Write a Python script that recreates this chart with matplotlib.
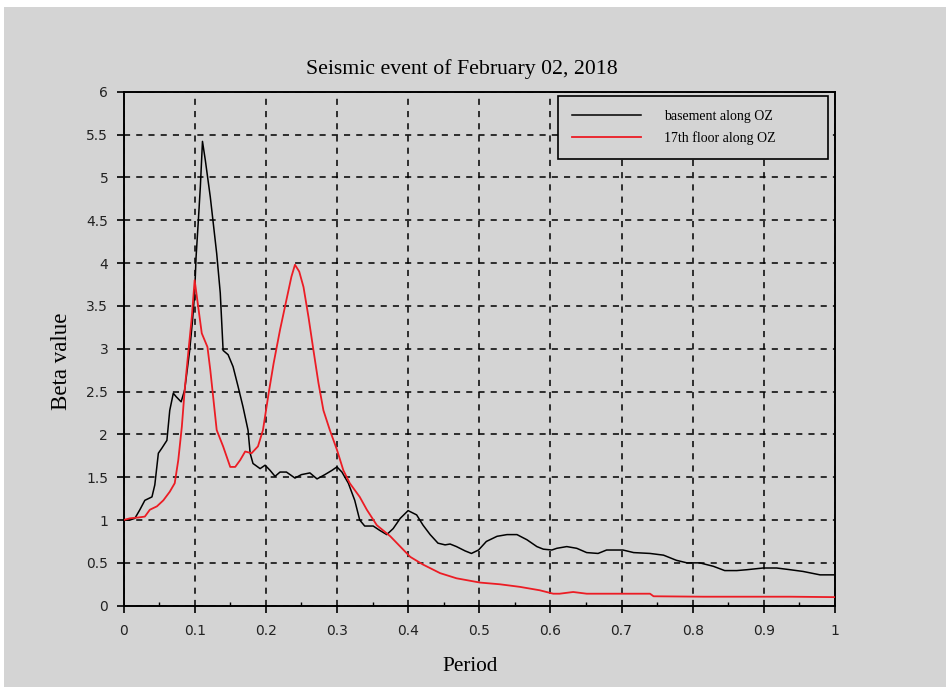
import matplotlib
matplotlib.use("Agg")
import matplotlib.pyplot as plt
from matplotlib.patches import Rectangle
from matplotlib.ticker import MultipleLocator

title = "Seismic event of February 02, 2018"
xlabel = "Period"
ylabel = "Beta value"
label_basement = "basement along OZ"
label_floor = "17th floor along OZ"

basement_x = [0.0, 0.009, 0.016, 0.023, 0.030, 0.040, 0.044, 0.049, 0.054, 0.061, 0.065,
              0.070, 0.074, 0.081, 0.086, 0.093, 0.097, 0.100, 0.102, 0.105, 0.108, 0.111,
              0.115, 0.122, 0.131, 0.136, 0.140, 0.147, 0.154, 0.161, 0.168, 0.175, 0.178,
              0.182, 0.192, 0.199, 0.206, 0.213, 0.220, 0.229, 0.241, 0.250, 0.262, 0.272,
              0.283, 0.293, 0.300, 0.307, 0.316, 0.325, 0.332, 0.339, 0.351, 0.360, 0.370,
              0.379, 0.389, 0.400, 0.412, 0.421, 0.431, 0.442, 0.452, 0.459, 0.468, 0.480,
              0.489, 0.499, 0.510, 0.525, 0.539, 0.553, 0.567, 0.581, 0.590, 0.602, 0.609,
              0.623, 0.637, 0.651, 0.667, 0.679, 0.702, 0.717, 0.740, 0.759, 0.777, 0.792,
              0.810, 0.829, 0.845, 0.862, 0.876, 0.899, 0.918, 0.937, 0.955, 0.979, 1.0]
basement_y = [1.0, 1.0, 1.02, 1.12, 1.23, 1.27, 1.41, 1.78, 1.84, 1.93, 2.28,
              2.48, 2.44, 2.38, 2.52, 2.98, 3.33, 3.65, 4.07, 4.47, 4.89, 5.42,
              5.20, 4.77, 4.11, 3.65, 2.98, 2.93, 2.79, 2.56, 2.32, 2.05, 1.78,
              1.66, 1.60, 1.64, 1.58, 1.51, 1.56, 1.56, 1.49, 1.53, 1.55, 1.48,
              1.53, 1.58, 1.62, 1.56, 1.43, 1.23, 1.00, 0.93, 0.93, 0.88, 0.83,
              0.90, 1.02, 1.11, 1.06, 0.94, 0.83, 0.73, 0.71, 0.72, 0.69, 0.64,
              0.61, 0.65, 0.75, 0.81, 0.83, 0.83, 0.77, 0.69, 0.66, 0.65, 0.67,
              0.69, 0.67, 0.62, 0.61, 0.65, 0.65, 0.62, 0.61, 0.59, 0.53, 0.50,
              0.50, 0.46, 0.41, 0.41, 0.42, 0.44, 0.44, 0.42, 0.40, 0.36, 0.36]

floor_x = [0.0, 0.009, 0.021, 0.030, 0.037, 0.047, 0.056, 0.065, 0.072, 0.077, 0.082,
           0.086, 0.091, 0.096, 0.100, 0.105, 0.110, 0.118, 0.122, 0.131, 0.140, 0.150,
           0.157, 0.164, 0.171, 0.180, 0.189, 0.196, 0.204, 0.211, 0.220, 0.229, 0.236,
           0.241, 0.247, 0.253, 0.260, 0.267, 0.274, 0.281, 0.290, 0.300, 0.309, 0.318,
           0.332, 0.342, 0.356, 0.375, 0.389, 0.403, 0.421, 0.445, 0.468, 0.501, 0.529,
           0.557, 0.585, 0.604, 0.613, 0.632, 0.651, 0.670, 0.693, 0.740, 0.745, 0.815,
           0.876, 0.937, 1.0]
floor_y = [1.0, 1.02, 1.03, 1.04, 1.12, 1.16, 1.23, 1.33, 1.43, 1.70, 2.09,
           2.52, 2.95, 3.37, 3.80, 3.49, 3.18, 3.02, 2.75, 2.05, 1.86, 1.62,
           1.62, 1.70, 1.80, 1.78, 1.86, 2.05, 2.48, 2.83, 3.22, 3.57, 3.84,
           3.98, 3.90, 3.72, 3.37, 2.98, 2.60, 2.28, 2.05, 1.82, 1.58, 1.43,
           1.27, 1.12, 0.94, 0.81, 0.69, 0.57, 0.48, 0.38, 0.32, 0.27, 0.25,
           0.22, 0.18, 0.14, 0.14, 0.16, 0.14, 0.14, 0.14, 0.14, 0.11, 0.105,
           0.105, 0.105, 0.10]

GRAY = "#d4d4d4"
W, H = 950, 687
fig = plt.figure(figsize=(W / 100, H / 100), dpi=100, facecolor="white")
fig.patches.append(Rectangle((4 / W, 0), 942 / W, 1 - 7 / H, transform=fig.transFigure,
                             facecolor=GRAY, edgecolor="none", zorder=-10))

left, right, top, bottom = 123.5, 835, 91.7, 605.7
aw, ah = right - left, bottom - top
ax = fig.add_axes([left / W, 1 - bottom / H, aw / W, ah / H])
ax.set_facecolor(GRAY)

ax.plot(basement_x, basement_y, color="black", lw=1.1, label=label_basement, zorder=3)
ax.plot(floor_x, floor_y, color="#ec1c24", lw=1.3, label=label_floor, zorder=3)

ax.set_xlim(0, 1)
ax.set_ylim(0, 6)
ax.xaxis.set_major_locator(MultipleLocator(0.1))
ax.xaxis.set_minor_locator(MultipleLocator(0.05))
ax.yaxis.set_major_locator(MultipleLocator(0.5))

def fmt(v, pos):
    return ("%.1f" % v).rstrip("0").rstrip(".")
ax.xaxis.set_major_formatter(plt.FuncFormatter(fmt))
ax.yaxis.set_major_formatter(plt.FuncFormatter(fmt))

ax.grid(True, which="major", color="black", linestyle=(0, (4, 4)), linewidth=1.1)
for s in ax.spines.values():
    s.set_color("black")
    s.set_linewidth(1.4)

ax.tick_params(axis="both", which="major", direction="out", length=5, width=1.2,
               labelsize=10, colors="black")
ax.tick_params(axis="y", which="major", pad=6)
ax.tick_params(axis="x", which="major", pad=8)
ax.tick_params(axis="x", which="minor", direction="in", length=3, width=1.0,
               bottom=True, top=False)
for lab in ax.get_xticklabels() + ax.get_yticklabels():
    lab.set_family("DejaVu Sans")
    lab.set_color("#222222")

ax.set_title(title, family="Liberation Serif", fontsize=15.7, pad=13,
             x=(462 - left) / aw)
ax.set_xlabel(xlabel, family="Liberation Serif", fontsize=15.3, labelpad=14,
              x=(470 - left) / aw)
ax.set_ylabel(ylabel, family="Liberation Serif", fontsize=16.5, labelpad=10,
              y=(bottom - 361) / ah)

x0 = (558 - left) / aw
wdt = (828 - 558) / aw
ytop = (bottom - 96) / ah
hgt = 0.12
leg = ax.legend(loc="upper right", bbox_to_anchor=(x0, ytop - hgt, wdt, hgt), mode="expand",
                borderaxespad=0, frameon=True, fancybox=False, facecolor=GRAY,
                edgecolor="black", framealpha=1, handlelength=5, handletextpad=1.6,
                borderpad=1.0, labelspacing=0.6,
                prop={"family": "Liberation Serif", "size": 10})
leg.get_frame().set_linewidth(1.2)

fig.savefig("out.png", dpi=100, facecolor="white")
